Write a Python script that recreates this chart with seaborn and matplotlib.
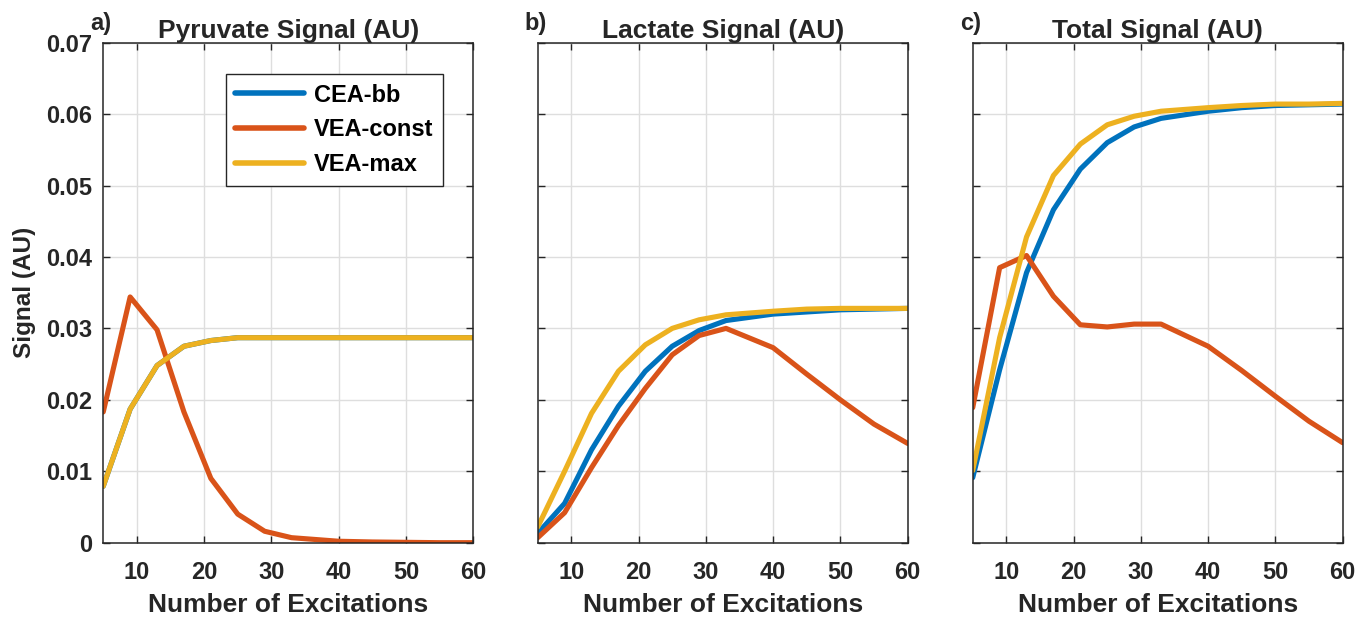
import pandas as pd
import matplotlib
matplotlib.use("Agg")
import matplotlib.pyplot as plt
import seaborn as sns
from matplotlib.ticker import FuncFormatter

# Numero de excitaciones (eje x comun)
n_exc = [5, 9, 13, 17, 21, 25, 29, 33, 40, 45, 50, 55, 60]

# a) Piruvato
pyr_cea = [0.0079, 0.0187, 0.0248, 0.0275, 0.0283, 0.0287, 0.0287, 0.0287, 0.0287, 0.0287, 0.0287, 0.0287, 0.0287]
pyr_const = [0.0183, 0.0344, 0.0298, 0.0183, 0.0090, 0.0040, 0.0016, 0.0007, 0.0002, 0.0001, 0.00005, 0.0, 0.0]
pyr_max = [0.0079, 0.0187, 0.0248, 0.0275, 0.0283, 0.0287, 0.0287, 0.0287, 0.0287, 0.0287, 0.0287, 0.0287, 0.0287]

# b) Lactato
lac_cea = [0.0013, 0.0055, 0.0130, 0.0191, 0.0240, 0.0275, 0.0297, 0.0311, 0.0320, 0.0323, 0.0326, 0.0327, 0.0328]
lac_const = [0.0007, 0.0042, 0.0105, 0.0164, 0.0216, 0.0263, 0.0290, 0.0300, 0.0273, 0.0236, 0.0200, 0.0166, 0.0139]
lac_max = [0.0022, 0.0100, 0.0181, 0.0240, 0.0277, 0.0300, 0.0312, 0.0319, 0.0324, 0.0327, 0.0328, 0.0328, 0.0328]

# c) Total
tot_cea = [0.0091, 0.0242, 0.0378, 0.0466, 0.0523, 0.0560, 0.0582, 0.0594, 0.0604, 0.0609, 0.0612, 0.0613, 0.0614]
tot_const = [0.0189, 0.0385, 0.0402, 0.0345, 0.0305, 0.0302, 0.0306, 0.0306, 0.0275, 0.0241, 0.0205, 0.0170, 0.0140]
tot_max = [0.0101, 0.0287, 0.0428, 0.0514, 0.0558, 0.0585, 0.0597, 0.0604, 0.0609, 0.0612, 0.0614, 0.0614, 0.0615]

metodos = ["CEA-bb", "VEA-const", "VEA-max"]
colores = {"CEA-bb": "#0072BD", "VEA-const": "#D95319", "VEA-max": "#EDB120"}

paneles = [
    ("a)", "Pyruvate Signal (AU)", [pyr_cea, pyr_const, pyr_max]),
    ("b)", "Lactate Signal (AU)", [lac_cea, lac_const, lac_max]),
    ("c)", "Total Signal (AU)", [tot_cea, tot_const, tot_max]),
]

sns.set_theme(style="whitegrid")
plt.rcParams["font.family"] = ["Liberation Sans", "DejaVu Sans"]
plt.rcParams["font.weight"] = "bold"

fig = plt.figure(figsize=(13.71, 6.20), dpi=100)
lefts = [0.0753, 0.3922, 0.7095]
texto = "#262626"

for i, (letra, titulo, series) in enumerate(paneles):
    ax = fig.add_axes([lefts[i], 0.1247, 0.2698, 0.8065])
    df = pd.DataFrame({
        "x": n_exc * 3,
        "signal": series[0] + series[1] + series[2],
        "metodo": sum([[m] * len(n_exc) for m in metodos], []),
    })
    sns.lineplot(data=df, x="x", y="signal", hue="metodo", hue_order=metodos,
                 palette=colores, linewidth=3.7, ax=ax, legend=(i == 0))

    ax.set_xlim(5, 60)
    ax.set_ylim(0, 0.07)
    ax.set_xticks([10, 20, 30, 40, 50, 60])
    ax.set_yticks([0, 0.01, 0.02, 0.03, 0.04, 0.05, 0.06, 0.07])
    ax.grid(True, color="#dedede", linewidth=1.0)
    ax.set_facecolor("white")
    for sp in ax.spines.values():
        sp.set_color(texto)
        sp.set_linewidth(1.1)
    ax.tick_params(axis="both", direction="in", length=5, width=1.0, color=texto,
                   top=True, right=True, bottom=True, left=True, labelsize=17)
    ax.tick_params(axis="x", pad=13)
    ax.tick_params(axis="y", pad=8)
    for lab in ax.get_xticklabels() + ax.get_yticklabels():
        lab.set_fontweight("bold")
        lab.set_color(texto)

    if i == 0:
        ax.yaxis.set_major_formatter(FuncFormatter(lambda v, p: f"{v:g}"))
        ax.set_ylabel("Signal (AU)", fontsize=17.5, fontweight="bold", color=texto, labelpad=7)
        leg = ax.legend(loc="upper right", bbox_to_anchor=(0.919, 0.937), fontsize=17,
                        handlelength=2.9, handletextpad=0.45, frameon=True, fancybox=False,
                        borderpad=0.4, labelspacing=0.5, borderaxespad=0)
        leg.get_frame().set_edgecolor(texto)
        leg.get_frame().set_linewidth(1.0)
        leg.get_frame().set_alpha(1.0)
        for t in leg.get_texts():
            t.set_fontweight("bold")
            t.set_color("black")
        for l in leg.get_lines():
            l.set_linewidth(4)
    else:
        ax.set_yticklabels([])
        ax.set_ylabel("")

    ax.set_xlabel("Number of Excitations", fontsize=19, fontweight="bold", color=texto, labelpad=7)
    ax.set_title(titulo, fontsize=19, fontweight="bold", pad=3)
    ax.text(-0.006, 1.015, letra, transform=ax.transAxes, fontsize=17, fontweight="bold",
            ha="center", va="bottom")

plt.savefig("out.png", dpi=100)
plt.close()
